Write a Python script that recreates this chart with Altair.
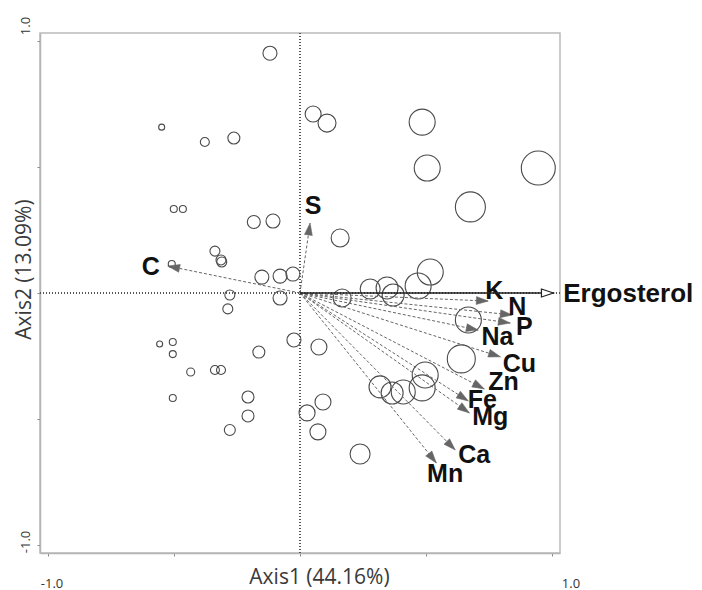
import math
import altair as alt
import pandas as pd

# ---- observations (PCA scores), bubble size = relative ergosterol ----
obs_x = [-0.119, -0.548, -0.377, -0.262, -0.500, -0.464, -0.183, -0.107, -0.337, -0.313,
         -0.310, -0.508, -0.151, -0.079, -0.028, -0.278, -0.286, -0.079, -0.556, -0.504,
         -0.504, -0.433, -0.337, -0.313, -0.504, -0.163, -0.024, -0.206, -0.206, -0.278,
         0.052, 0.107, 0.484, 0.504, 0.944, 0.675, 0.159, 0.516, 0.468, 0.278,
         0.345, 0.369, 0.167, 0.075, 0.091, 0.028, 0.071, 0.238, 0.667, 0.639,
         0.496, 0.484, 0.317, 0.365, 0.409]
obs_y = [0.950, 0.657, 0.598, 0.614, 0.333, 0.333, 0.281, 0.285, 0.166, 0.131,
         0.123, 0.115, 0.063, 0.067, 0.075, -0.008, -0.063, -0.020, -0.202, -0.194,
         -0.242, -0.313, -0.305, -0.305, -0.416, -0.234, -0.186, -0.412, -0.487, -0.543,
         0.709, 0.673, 0.677, 0.495, 0.495, 0.341, 0.218, 0.083, 0.028, 0.016,
         0.020, -0.008, -0.020, -0.214, -0.432, -0.475, -0.550, -0.638, -0.107, -0.261,
         -0.325, -0.376, -0.372, -0.396, -0.392]
obs_ergo = [7, 3, 4.5, 6, 3.5, 3.5, 6.5, 7, 5, 5,
            5, 3.5, 7, 7, 7, 5, 5, 7, 3, 3.5,
            3.5, 4, 4.5, 4.5, 3.5, 6, 7, 6, 6, 5.5,
            8, 9, 13, 13, 17, 15, 9, 13, 13, 10,
            11, 11, 9, 8, 8, 8, 8, 10, 13, 14,
            13, 13, 11, 11, 12]

# ---- active variables (loadings) ----
var_names = ["K", "N", "P", "Na", "Cu", "Zn", "Fe", "Mg", "Ca", "Mn", "S", "C"]
var_x = [0.746, 0.841, 0.833, 0.706, 0.794, 0.730, 0.667, 0.671, 0.615, 0.540, 0.040, -0.524]
var_y = [-0.032, -0.087, -0.119, -0.147, -0.253, -0.380, -0.428, -0.475, -0.622, -0.673, 0.277, 0.107]
lab_x = [0.770, 0.861, 0.889, 0.782, 0.869, 0.806, 0.722, 0.754, 0.690, 0.575, 0.052, -0.591]
lab_y = [0.008, -0.055, -0.135, -0.174, -0.281, -0.352, -0.424, -0.491, -0.642, -0.717, 0.345, 0.103]

# ---- supplementary variable ----
sup_names = ["Ergosterol"]
sup_x = [1.004]
sup_y = [0.0]
sup_lab_x = [1.043]
sup_lab_y = [-0.004]

x_title = "Axis1 (44.16%)"
y_title = "Axis2 (13.09%)"
tick_vals = [-1, -0.5, 0, 0.5, 1]


def heading(x, y):
    return (math.degrees(math.atan2(x, y)) + 360) % 360


obs = pd.DataFrame({"x": obs_x, "y": obs_y, "ergo": obs_ergo})
var = pd.DataFrame({"name": var_names, "x": var_x, "y": var_y, "lx": lab_x, "ly": lab_y})
var["x0"] = 0.0
var["y0"] = 0.0
var["ang"] = [heading(a, b) for a, b in zip(var_x, var_y)]
sup = pd.DataFrame({"name": sup_names, "x": sup_x, "y": sup_y, "lx": sup_lab_x, "ly": sup_lab_y})
sup["x0"] = 0.0
sup["y0"] = 0.0
sup["ang"] = [heading(a, b) for a, b in zip(sup_x, sup_y)]

xs = alt.Scale(domain=[-1.03, 1.03], nice=False, zero=False)
ys = alt.Scale(domain=[-1.03, 1.03], nice=False, zero=False)
lab_expr = "datum.value == 1 ? '1.0' : (datum.value == -1 ? '-1.0' : '')"

x_axis = alt.Axis(
    values=tick_vals, labelExpr=lab_expr, grid=False, title=x_title,
    domainColor="#b5b5b5", domainWidth=1.5, tickColor="#888", tickSize=3,
    labelPadding=21, labelFont="Open Sans", labelFontSize=13, labelColor="#333",
    labelAngle=0, labelAlign="center", labelBaseline="top",
    labelOffset={"condition": {"test": "datum.value == 1", "value": 18}, "value": 4},
    titleFont="Open Sans", titleFontSize=21, titleFontWeight="normal", titleColor="#3a3a3a",
    titleX=279, titleY=24, titleBaseline="middle", titleAlign="center",
)
y_axis = alt.Axis(
    values=tick_vals, labelExpr=lab_expr, grid=False, title=y_title,
    domainColor="#b5b5b5", domainWidth=1.5, tickColor="#888", tickSize=3,
    labelPadding=12, labelFont="Open Sans", labelFontSize=13, labelColor="#333",
    labelAngle=270, labelAlign="center", labelBaseline="middle",
    labelOffset={"condition": {"test": "datum.value == 1", "value": -15}, "value": -4},
    titleFont="Open Sans", titleFontSize=21, titleFontWeight="normal", titleColor="#3a3a3a",
    titleAngle=270, titleX=-16, titleY=236, titleBaseline="middle", titleAlign="center",
)

base_x = alt.X("x:Q", scale=xs, axis=x_axis)
base_y = alt.Y("y:Q", scale=ys, axis=y_axis)

zero_h = alt.Chart(obs).mark_rule(color="#555", strokeWidth=1, strokeDash=[1, 2]).encode(
    y=alt.Y(datum=0, scale=ys))
zero_v = alt.Chart(obs).mark_rule(color="#555", strokeWidth=1, strokeDash=[1, 2]).encode(
    x=alt.X(datum=0, scale=xs))

circles = alt.Chart(obs).mark_point(
    shape="circle", filled=False, stroke="#4a4a4a", strokeWidth=1.1, opacity=1
).encode(
    x=base_x, y=base_y,
    size=alt.Size("ergo:Q", scale=alt.Scale(type="pow", exponent=2, domain=[0, 17], range=[0, 1156]),
                  legend=None),
)

head_path = "M0,0L-0.33,1L0.33,1Z"

var_lines = alt.Chart(var).mark_rule(color="#666", strokeWidth=1, strokeDash=[3, 2]).encode(
    x=alt.X("x0:Q", scale=xs), y=alt.Y("y0:Q", scale=ys), x2="x:Q", y2="y:Q")
var_heads = alt.Chart(var).mark_point(
    shape=head_path, filled=True, fill="#666", stroke="#666", strokeWidth=0.5, size=576, opacity=1
).encode(x=alt.X("x:Q", scale=xs), y=alt.Y("y:Q", scale=ys), angle=alt.Angle("ang:Q", scale=None))
var_labels = alt.Chart(var).mark_text(
    font="Liberation Sans", fontSize=25, fontWeight="bold", color="#111",
    align="center", baseline="middle"
).encode(x=alt.X("lx:Q", scale=xs), y=alt.Y("ly:Q", scale=ys), text="name:N")

sup_line = alt.Chart(sup).mark_rule(color="#222", strokeWidth=1.6).encode(
    x=alt.X("x0:Q", scale=xs), y=alt.Y("y0:Q", scale=ys), x2="x:Q", y2="y:Q")
sup_head = alt.Chart(sup).mark_point(
    shape=head_path, filled=True, fill="white", stroke="#222", strokeWidth=1.2, size=576, opacity=1
).encode(x=alt.X("x:Q", scale=xs), y=alt.Y("y:Q", scale=ys), angle=alt.Angle("ang:Q", scale=None))
sup_label = alt.Chart(sup).mark_text(
    font="Liberation Sans", fontSize=26, fontWeight="bold", color="#111",
    align="left", baseline="middle"
).encode(x=alt.X("lx:Q", scale=xs), y=alt.Y("ly:Q", scale=ys), text="name:N")

chart = alt.layer(
    circles, zero_h, zero_v, var_lines, var_heads, var_labels, sup_line, sup_head, sup_label
).properties(
    width=520, height=520,
    autosize=alt.AutoSizeParams(type="none"),
    padding={"left": 32, "top": 25, "right": 134, "bottom": 40},
).configure_view(stroke="#bbb", strokeWidth=1.5)

chart.save("out.html", embed_options={"renderer": "svg", "actions": False})
